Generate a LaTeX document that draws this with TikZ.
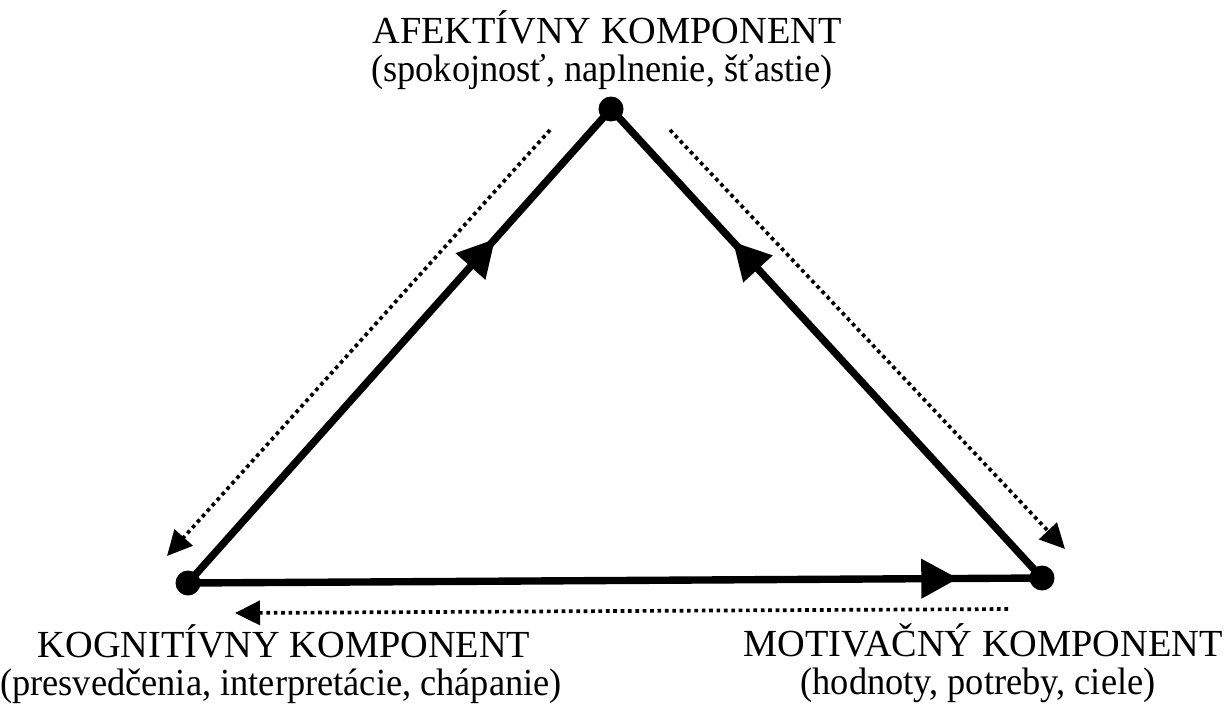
\documentclass[tikz,border=0pt]{standalone}
\usepackage{fontspec}
\setmainfont{Liberation Serif}
\newfontfamily\subserif[FakeStretch=0.95]{Liberation Serif}
\usetikzlibrary{arrows.meta,decorations.markings}
\begin{document}
\begin{tikzpicture}[x=0.02cm,y=-0.02cm,
  vertex/.style={circle,fill=black,inner sep=0pt,minimum size=0.5cm},
  edge/.style={line width=4.2pt,
    postaction={decorate},
    decoration={markings,mark=at position #1 with {\arrow{Triangle[length=0.74cm,width=0.76cm]}}}},
  feedback/.style={line width=2.1pt,dash pattern=on 2.1pt off 2.1pt,
    -{Triangle[length=0.5cm,width=0.48cm,sep=0pt]}},
  title/.style={anchor=base,inner sep=0pt,font=\fontsize{21.8}{21.8}\selectfont},
  subtitle/.style={anchor=base,inner sep=0pt,font=\fontsize{21.8}{21.8}\subserif}]
\useasboundingbox (0,0) rectangle (1226,706);

% vertices of the triangle
\node[vertex] (A) at (611,109) {};
\node[vertex] (K) at (188,583) {};
\node[vertex] (M) at (1042,578) {};

% component labels
\node[title] (lA) at (607,44) {AFEKTÍVNY KOMPONENT};
\node[subtitle] (sA) at (602,82) {(spokojnosť, naplnenie, šťastie)};
\node[title] (lK) at (284,657) {KOGNITÍVNY KOMPONENT};
\node[subtitle] (sK) at (281,695) {(presvedčenia, interpretácie, chápanie)};
\node[title] (lM) at (983,656) {MOTIVAČNÝ KOMPONENT};
\node[subtitle] (sM) at (978,694) {(hodnoty, potreby, ciele)};

% solid edges with direction marks
\draw[edge=0.726] (K.center) -- (A.center);
\draw[edge=0.717] (M.center) -- (A.center);
\draw[edge=0.902] (K.center) -- (M.center);

% dotted feedback arrows
\coordinate (a1) at (550,130);
\coordinate (a2) at (167,556);
\coordinate (b1) at (670,130);
\coordinate (b2) at (1065,549);
\coordinate (c1) at (1008,609);
\coordinate (c2) at (235,613);
\draw[feedback] (a1) -- (a2);
\draw[feedback] (b1) -- (b2);
\draw[feedback] (c1) -- (c2);
\end{tikzpicture}
\end{document}
